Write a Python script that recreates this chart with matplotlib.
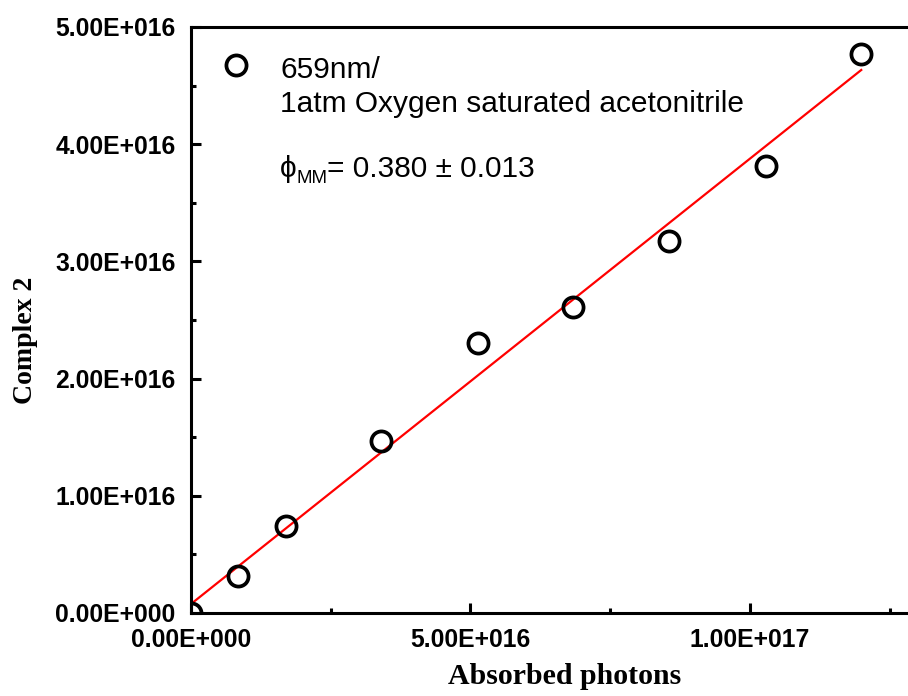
import numpy as np
import matplotlib
matplotlib.use("Agg")
import matplotlib.pyplot as plt
from matplotlib.ticker import FuncFormatter, MultipleLocator

plt.rcParams["font.family"] = ["Liberation Sans", "DejaVu Sans"]

# Measured points: absorbed photons vs. converted complex 2
absorbed_photons = [0.0, 0.84e16, 1.70e16, 3.40e16, 5.13e16, 6.83e16, 8.55e16, 1.029e17, 1.199e17]
complex2 = [0.0, 0.316e16, 0.742e16, 1.468e16, 2.30e16, 2.61e16, 3.17e16, 3.81e16, 4.77e16]

# Linear fit (slope = quantum yield)
fit_slope = 0.380
fit_intercept = 7.7e14

legend_label = "659nm/\n1atm Oxygen saturated acetonitrile"
yield_symbol = "ϕ"
yield_sub = "MM"
yield_value = "= 0.380 ± 0.013"
x_label = "Absorbed photons"
y_label = "Complex 2"

W, H = 908, 696
fig = plt.figure(figsize=(W / 100, H / 100), dpi=100)

# axes box in pixels; right side runs past the figure edge
left_px, bottom_px, top_px = 191, 613, 27
xmax = 1.3e17
px_per_x = 279.5 / 5e16
width_px = xmax * px_per_x
ax = fig.add_axes([left_px / W, (H - bottom_px) / H, width_px / W, (bottom_px - top_px) / H])

def sci_fmt(v, pos):
    if v == 0:
        return "0.00E+000"
    e = int(np.floor(np.log10(abs(v))))
    m = v / 10 ** e
    return f"{m:.2f}E+{e:03d}"

xf = np.array([0.0, max(absorbed_photons)])
ax.plot(xf, fit_slope * xf + fit_intercept, color="#ff0000", lw=1.6, zorder=2)
ax.plot(absorbed_photons, complex2, "o", ms=14.5, mfc="none", mec="black", mew=2.7, zorder=3)

ax.set_xlim(0, xmax)
ax.set_ylim(0, 5e16)
ax.xaxis.set_major_locator(MultipleLocator(5e16))
ax.xaxis.set_minor_locator(MultipleLocator(2.5e16))
ax.yaxis.set_major_locator(MultipleLocator(1e16))
ax.yaxis.set_minor_locator(MultipleLocator(5e15))
ax.xaxis.set_major_formatter(FuncFormatter(sci_fmt))
ax.yaxis.set_major_formatter(FuncFormatter(sci_fmt))

for s in ax.spines.values():
    s.set_linewidth(2.2)
ax.tick_params(which="both", direction="in", width=2.2, top=False, right=False)
ax.tick_params(which="major", length=7, pad=11, labelsize=17.8)
ax.tick_params(which="minor", length=3.5)
plt.setp(ax.get_xticklabels(), fontweight="bold")
plt.setp(ax.get_yticklabels(), fontweight="bold")

# axis titles
fig.text(565 / W, 1 - 677 / H, x_label, family="Liberation Serif", weight="bold",
         fontsize=21.5, ha="center", va="center")
fig.text(26 / W, 1 - 340 / H, y_label, family="Liberation Serif", weight="bold",
         fontsize=20, ha="center", va="center", rotation=90)

# legend entry and annotation
fig.add_artist(plt.Line2D([236 / W], [1 - 65 / H], marker="o", ms=14.5, mfc="none",
                          mec="black", mew=2.7, transform=fig.transFigure))
lines = legend_label.split("\n")
fig.text(280 / W, 1 - 78 / H, lines[0], fontsize=21.5, ha="left", va="baseline")
fig.text(280 / W, 1 - 112 / H, lines[1], fontsize=21.5, ha="left", va="baseline")
fig.text(280 / W, 1 - 177 / H, yield_symbol, fontsize=21.5, ha="left", va="baseline")
fig.text(296 / W, 1 - 170 / H, yield_sub, fontsize=13.5, ha="left", va="top")
fig.text(327 / W, 1 - 177 / H, yield_value, fontsize=21.5, ha="left", va="baseline")

fig.savefig("out.png", dpi=100, facecolor="white")
